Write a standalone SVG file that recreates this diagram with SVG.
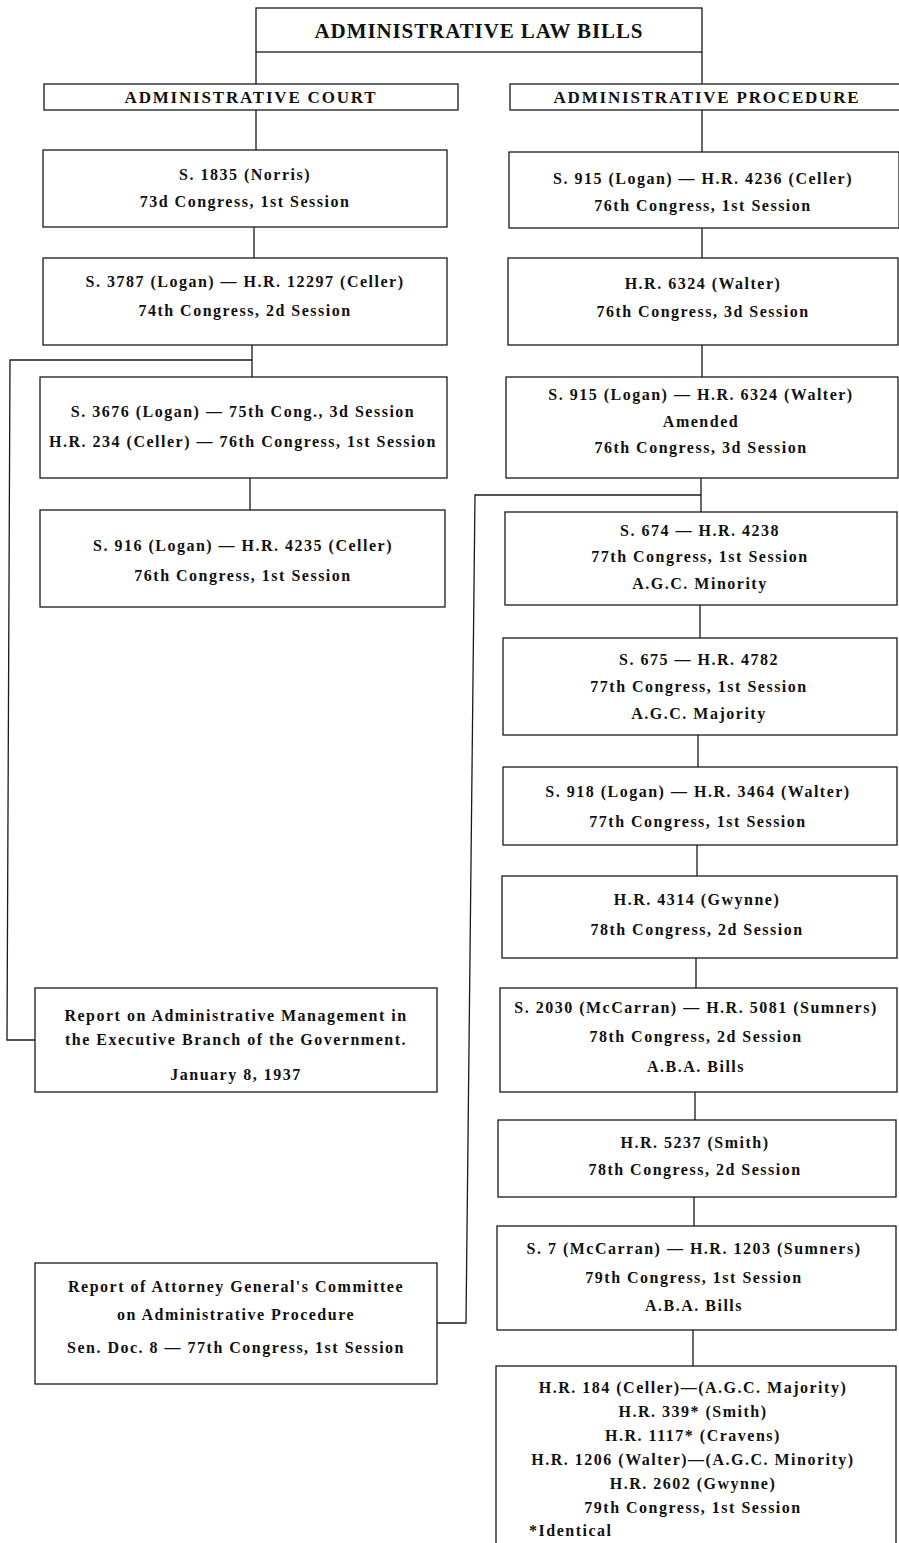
<svg xmlns="http://www.w3.org/2000/svg" width="899" height="1543" viewBox="0 0 899 1543">
<style>
.box{fill:#fff;stroke:#1a1a1a;stroke-width:1.3}
.c{fill:none;stroke:#1a1a1a;stroke-width:1.3}
text{font-family:"Liberation Serif","Times New Roman",serif;font-weight:bold;fill:#111;text-anchor:middle}
.t{font-size:16px;letter-spacing:1.5px}
.h1{font-size:21px;letter-spacing:0.9px}
.h2{font-size:17px;letter-spacing:1.8px}
</style>
<rect width="899" height="1543" fill="#fff"/>
<g id="connectors">
<path class="c" d="M256 52V84M702 52V84"/>
<path class="c" d="M256 110V150"/>
<path class="c" d="M702 110V152"/>
<path class="c" d="M254 227V258"/>
<path class="c" d="M252 345V377M252 360H10L7 1040H35"/>
<path class="c" d="M250 478V510"/>
<path class="c" d="M702 228V258"/>
<path class="c" d="M702 345V377"/>
<path class="c" d="M701 478V512M701 495H475L466 1323H437"/>
<path class="c" d="M700 605V638"/>
<path class="c" d="M698 735V767"/>
<path class="c" d="M697 845V876"/>
<path class="c" d="M696 958V988"/>
<path class="c" d="M695 1092V1120"/>
<path class="c" d="M694 1197V1226"/>
<path class="c" d="M693 1330V1366"/>
</g>
<g id="title"><rect class="box" x="256" y="8" width="446" height="44"/><text class="h1" x="479" y="38">ADMINISTRATIVE LAW BILLS</text></g>
<g id="court"><rect class="box" x="44" y="84" width="414" height="26"/><text class="h2" x="251" y="103">ADMINISTRATIVE COURT</text></g>
<g id="procedure"><rect class="box" x="510" y="84" width="390" height="26"/><text class="h2" x="707" y="103">ADMINISTRATIVE PROCEDURE</text></g>

<g id="L1"><rect class="box" x="43" y="150" width="404" height="77"/><text class="t" x="245" y="180">S. 1835 (Norris)</text><text class="t" x="245" y="207">73d Congress, 1st Session</text></g>
<g id="L2"><rect class="box" x="43" y="258" width="404" height="87"/><text class="t" x="245" y="287">S. 3787 (Logan) — H.R. 12297 (Celler)</text><text class="t" x="245" y="316">74th Congress, 2d Session</text></g>
<g id="L3"><rect class="box" x="40" y="377" width="407" height="101"/><text class="t" x="243" y="417">S. 3676 (Logan) — 75th Cong., 3d Session</text><text class="t" x="243" y="447">H.R. 234 (Celler) — 76th Congress, 1st Session</text></g>
<g id="L4"><rect class="box" x="40" y="510" width="405" height="97"/><text class="t" x="243" y="551">S. 916 (Logan) — H.R. 4235 (Celler)</text><text class="t" x="243" y="581">76th Congress, 1st Session</text></g>
<g id="report1"><rect class="box" x="35" y="988" width="402" height="104"/><text class="t" x="236" y="1021">Report on Administrative Management in</text><text class="t" x="236" y="1045">the Executive Branch of the Government.</text><text class="t" x="236" y="1080">January 8, 1937</text></g>
<g id="report2"><rect class="box" x="35" y="1263" width="402" height="121"/><text class="t" x="236" y="1292">Report of Attorney General's Committee</text><text class="t" x="236" y="1320">on Administrative Procedure</text><text class="t" x="236" y="1353">Sen. Doc. 8 — 77th Congress, 1st Session</text></g>

<g id="R1"><rect class="box" x="509" y="152" width="390" height="76"/><text class="t" x="703" y="184">S. 915 (Logan) — H.R. 4236 (Celler)</text><text class="t" x="703" y="211">76th Congress, 1st Session</text></g>
<g id="R2"><rect class="box" x="508" y="258" width="390" height="87"/><text class="t" x="703" y="289">H.R. 6324 (Walter)</text><text class="t" x="703" y="317">76th Congress, 3d Session</text></g>
<g id="R3"><rect class="box" x="506" y="377" width="392" height="101"/><text class="t" x="701" y="400">S. 915 (Logan) — H.R. 6324 (Walter)</text><text class="t" x="701" y="427">Amended</text><text class="t" x="701" y="453">76th Congress, 3d Session</text></g>
<g id="R4"><rect class="box" x="505" y="512" width="392" height="93"/><text class="t" x="700" y="536">S. 674 — H.R. 4238</text><text class="t" x="700" y="562">77th Congress, 1st Session</text><text class="t" x="700" y="589">A.G.C. Minority</text></g>
<g id="R5"><rect class="box" x="503" y="638" width="394" height="97"/><text class="t" x="699" y="665">S. 675 — H.R. 4782</text><text class="t" x="699" y="692">77th Congress, 1st Session</text><text class="t" x="699" y="719">A.G.C. Majority</text></g>
<g id="R6"><rect class="box" x="503" y="767" width="394" height="78"/><text class="t" x="698" y="797">S. 918 (Logan) — H.R. 3464 (Walter)</text><text class="t" x="698" y="827">77th Congress, 1st Session</text></g>
<g id="R7"><rect class="box" x="502" y="876" width="395" height="82"/><text class="t" x="697" y="905">H.R. 4314 (Gwynne)</text><text class="t" x="697" y="935">78th Congress, 2d Session</text></g>
<g id="R8"><rect class="box" x="500" y="988" width="397" height="104"/><text class="t" x="696" y="1013">S. 2030 (McCarran) — H.R. 5081 (Sumners)</text><text class="t" x="696" y="1042">78th Congress, 2d Session</text><text class="t" x="696" y="1072">A.B.A. Bills</text></g>
<g id="R9"><rect class="box" x="498" y="1120" width="398" height="77"/><text class="t" x="695" y="1148">H.R. 5237 (Smith)</text><text class="t" x="695" y="1175">78th Congress, 2d Session</text></g>
<g id="R10"><rect class="box" x="497" y="1226" width="399" height="104"/><text class="t" x="694" y="1254">S. 7 (McCarran) — H.R. 1203 (Sumners)</text><text class="t" x="694" y="1283">79th Congress, 1st Session</text><text class="t" x="694" y="1311">A.B.A. Bills</text></g>
<g id="R11"><rect class="box" x="496" y="1366" width="400" height="190"/><text class="t" x="693" y="1393">H.R. 184 (Celler)—(A.G.C. Majority)</text><text class="t" x="693" y="1417">H.R. 339* (Smith)</text><text class="t" x="693" y="1441">H.R. 1117* (Cravens)</text><text class="t" x="693" y="1465">H.R. 1206 (Walter)—(A.G.C. Minority)</text><text class="t" x="693" y="1489">H.R. 2602 (Gwynne)</text><text class="t" x="693" y="1513">79th Congress, 1st Session</text><text class="t" x="529" y="1536" style="text-anchor:start">*Identical</text></g>
</svg>
